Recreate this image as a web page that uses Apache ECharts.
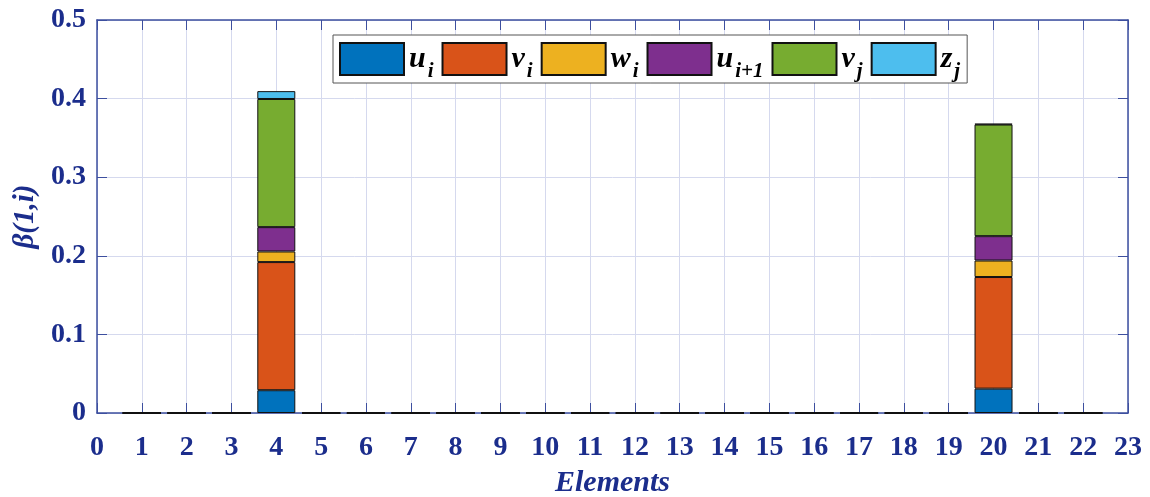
<!DOCTYPE html>
<html>
<head>
<meta charset="utf-8">
<script src="https://cdn.jsdelivr.net/npm/echarts@6/dist/echarts.min.js"></script>
<style>
  html, body { margin: 0; padding: 0; background: #fff; }
  #chart { width: 1150px; height: 497px; }
</style>
</head>
<body>
<div id="chart"></div>
<script>
// Axis tick values
const xTicks = [0, 1, 2, 3, 4, 5, 6, 7, 8, 9, 10, 11, 12, 13, 14, 15, 16, 17, 18, 19, 20, 21, 22, 23];
const yTicks = [0, 0.1, 0.2, 0.3, 0.4, 0.5];

// Elements that carry a (possibly zero) stacked bar
const elements = [1, 2, 3, 4, 5, 6, 7, 8, 9, 10, 11, 12, 13, 14, 15, 16, 17, 18, 19, 20, 21, 22];

// Contribution of each variable, one value per element (1..22)
const u_i   = [0, 0, 0, 0.029, 0, 0, 0, 0, 0, 0, 0, 0, 0, 0, 0, 0, 0, 0, 0, 0.031, 0, 0];
const v_i   = [0, 0, 0, 0.163, 0, 0, 0, 0, 0, 0, 0, 0, 0, 0, 0, 0, 0, 0, 0, 0.142, 0, 0];
const w_i   = [0, 0, 0, 0.0135, 0, 0, 0, 0, 0, 0, 0, 0, 0, 0, 0, 0, 0, 0, 0, 0.021, 0, 0];
const u_ip1 = [0, 0, 0, 0.031, 0, 0, 0, 0, 0, 0, 0, 0, 0, 0, 0, 0, 0, 0, 0, 0.031, 0, 0];
const v_j   = [0, 0, 0, 0.163, 0, 0, 0, 0, 0, 0, 0, 0, 0, 0, 0, 0, 0, 0, 0, 0.142, 0, 0];
const z_j   = [0, 0, 0, 0.010, 0, 0, 0, 0, 0, 0, 0, 0, 0, 0, 0, 0, 0, 0, 0, 0.001, 0, 0];

const seriesDefs = [
  { name: 'u_i',   label: '{m|u}{s|i}',   values: u_i,   color: '#0072BD' },
  { name: 'v_i',   label: '{m|v}{s|i}',   values: v_i,   color: '#D95319' },
  { name: 'w_i',   label: '{m|w}{s|i}',   values: w_i,   color: '#EDB120' },
  { name: 'u_i+1', label: '{m|u}{s|i+1}', values: u_ip1, color: '#7E2F8E' },
  { name: 'v_j',   label: '{m|v}{s|j}',   values: v_j,   color: '#77AC30' },
  { name: 'z_j',   label: '{m|z}{s|j}',   values: z_j,   color: '#4DBEEE' }
];

const navy = '#1b2d8c';
const axisLineColor = '#3d4f9f';
const gridColor = '#d5d9ee';
const serif = '"Liberation Serif", "DejaVu Serif", serif';

const legendLabels = {};
seriesDefs.forEach(d => { legendLabels[d.name] = d.label; });

const chart = echarts.init(document.getElementById('chart'), null, { renderer: 'canvas' });

const catNames = xTicks.map(String);

const frameLine = { show: true, onZero: false, lineStyle: { color: axisLineColor, width: 1.5 } };
const frameTick = { show: true, inside: true, length: 10, interval: 0, lineStyle: { color: axisLineColor } };

chart.setOption({
  animation: false,
  backgroundColor: '#ffffff',
  grid: { left: 97, right: 22, top: 20, bottom: 84, containLabel: false, outerBoundsMode: 'none' },
  legend: {
    top: 35,
    left: 333,
    icon: 'rect',
    itemWidth: 64,
    itemHeight: 32,
    itemGap: 8,
    padding: [7, 7, 1, 6],
    backgroundColor: '#ffffff',
    borderColor: '#555555',
    borderWidth: 1,
    selectedMode: false,
    data: seriesDefs.map(d => d.name),
    formatter: name => legendLabels[name],
    textStyle: {
      color: '#000',
      fontFamily: serif,
      rich: {
        m: { fontSize: 30, fontStyle: 'italic', fontWeight: 'bold', fontFamily: serif, color: '#000', lineHeight: 46, verticalAlign: 'middle' },
        s: { fontSize: 21, fontStyle: 'italic', fontWeight: 'bold', fontFamily: serif, color: '#000', lineHeight: 21, verticalAlign: 'bottom', padding: [0, 0, 0, 2] }
      }
    }
  },
  xAxis: [
    {
      type: 'category',
      data: catNames,
      boundaryGap: false,
      position: 'bottom',
      name: 'Elements',
      nameLocation: 'middle',
      nameGap: 55,
      nameTextStyle: { color: navy, fontFamily: serif, fontSize: 30, fontStyle: 'italic', fontWeight: 'bold' },
      axisLine: frameLine,
      axisTick: frameTick,
      axisLabel: { interval: 0, color: navy, fontFamily: serif, fontSize: 28, fontWeight: 'bold', margin: 21 },
      splitLine: { show: true, interval: 0, lineStyle: { color: gridColor, width: 1 } }
    },
    {
      type: 'category',
      data: catNames,
      boundaryGap: false,
      position: 'top',
      axisLine: frameLine,
      axisTick: frameTick,
      axisLabel: { show: false },
      splitLine: { show: false }
    }
  ],
  yAxis: [
    {
      type: 'value', min: 0, max: 0.5, interval: 0.1,
      position: 'left',
      name: 'β(1,i)',
      nameLocation: 'middle',
      nameGap: 53,
      nameTextStyle: { color: navy, fontFamily: serif, fontSize: 29, fontStyle: 'italic', fontWeight: 'bold' },
      axisLine: frameLine,
      axisTick: { show: true, inside: true, length: 10, lineStyle: { color: axisLineColor } },
      axisLabel: {
        color: navy, fontFamily: serif, fontSize: 28, fontWeight: 'bold', margin: 11,
        formatter: v => {
          const t = yTicks.find(y => Math.abs(y - v) < 1e-9);
          return t === undefined ? '' : (t === 0 ? '0' : t.toFixed(1));
        }
      },
      splitLine: { show: true, lineStyle: { color: gridColor, width: 1 } }
    },
    {
      type: 'value', min: 0, max: 0.5, interval: 0.1,
      position: 'right',
      axisLine: frameLine,
      axisTick: { show: true, inside: true, length: 10, lineStyle: { color: axisLineColor } },
      axisLabel: { show: false },
      splitLine: { show: false }
    }
  ],
  series: seriesDefs.map(d => ({
    name: d.name,
    type: 'bar',
    stack: 'beta',
    xAxisIndex: 0,
    yAxisIndex: 0,
    barWidth: 38,
    data: xTicks.map(t => {
      const k = elements.indexOf(t);
      return k >= 0 ? d.values[k] : '-';
    }),
    itemStyle: { color: d.color, borderColor: '#111111', borderWidth: 1 },
    emphasis: { disabled: true }
  }))
});
</script>
</body>
</html>
